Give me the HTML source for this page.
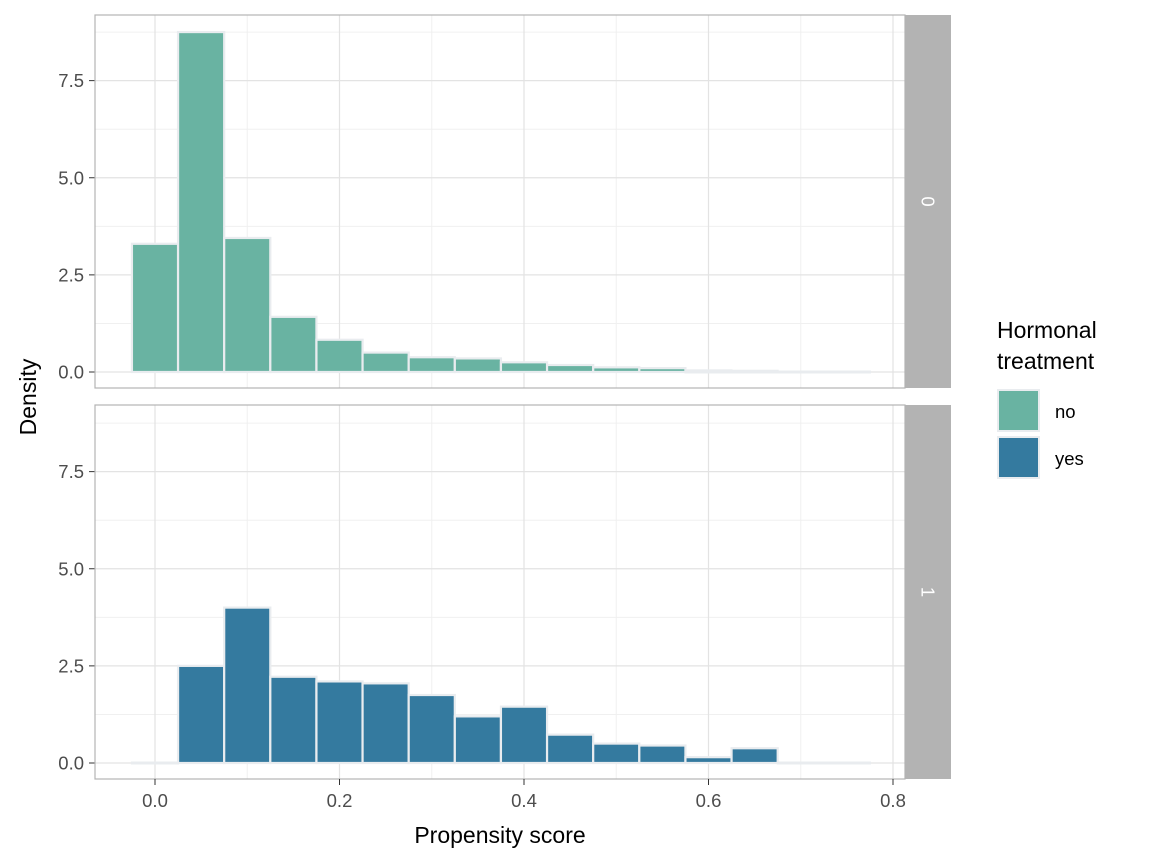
<!DOCTYPE html>
<html><head><meta charset="utf-8"><style>body{margin:0;background:#fff}svg{display:block;font-family:"Liberation Sans",Arial,sans-serif}</style></head>
<body>
<svg id="s" width="1152" height="865" xmlns="http://www.w3.org/2000/svg"></svg>
<script>
const s=document.getElementById('s');let h='';
const X=v=>155+v*922.5;
const panels=[{top:15,bot:388,zero:372,col:'#69b3a2',lab:'0',
 d:[3.3,8.75,3.45,1.42,0.83,0.5,0.38,0.35,0.25,0.18,0.12,0.1,0.03,0.02,0,0]},
 {top:405,bot:779,zero:763,col:'#347a9f',lab:'1',
 d:[0,2.5,4.0,2.22,2.1,2.05,1.75,1.2,1.45,0.73,0.5,0.45,0.15,0.38,0,0]}];
const k=38.85;
panels.forEach(p=>{
 const Y=v=>p.zero-v*k;
 for(let v=-1.25;v<=8.75;v+=2.5){const y=Y(v);if(y>p.top&&y<p.bot)h+=`<line x1="95" x2="905" y1="${y}" y2="${y}" stroke="#f0f0f0" stroke-width="1"/>`;}
 for(let v=0.1;v<0.8;v+=0.2)h+=`<line x1="${X(v)}" x2="${X(v)}" y1="${p.top}" y2="${p.bot}" stroke="#f0f0f0" stroke-width="1"/>`;
 for(let v=0;v<=7.5;v+=2.5){const y=Y(v);h+=`<line x1="95" x2="905" y1="${y}" y2="${y}" stroke="#e3e3e3" stroke-width="1.2"/><text x="84" y="${y+6.5}" text-anchor="end" font-size="18.5" fill="#4d4d4d">${v.toFixed(1)}</text><line x1="89" x2="95" y1="${y}" y2="${y}" stroke="#333"/>`;}
 for(let v=0;v<=0.8;v+=0.2)h+=`<line x1="${X(v)}" x2="${X(v)}" y1="${p.top}" y2="${p.bot}" stroke="#e3e3e3" stroke-width="1.2"/>`;
 p.d.forEach((v,i)=>{const x0=X(-0.025+i*0.05),x1=X(0.025+i*0.05);const y=Y(v);
  if(v<0.05) h+=`<rect x="${x0-1}" y="${y-1.5}" width="${x1-x0+2}" height="${p.zero-y+3}" fill="#e9ecef"/>`;
  else h+=`<rect x="${x0}" y="${y}" width="${x1-x0}" height="${p.zero-y}" fill="${p.col}" stroke="#e9ecef" stroke-width="2.2"/>`;});
 h+=`<rect x="95" y="${p.top}" width="810" height="${p.bot-p.top}" fill="none" stroke="#b3b3b3" stroke-width="1.2"/>`;
 h+=`<rect x="905" y="${p.top}" width="46" height="${p.bot-p.top}" fill="#b3b3b3"/>`;
 const cy=(p.top+p.bot)/2;
 h+=`<text x="928" y="${cy}" transform="rotate(90 928 ${cy})" text-anchor="middle" dy="6.5" font-size="18.5" fill="#fff">${p.lab}</text>`;
});
[0,0.2,0.4,0.6,0.8].forEach(v=>{h+=`<line x1="${X(v)}" x2="${X(v)}" y1="779" y2="785" stroke="#333"/><text x="${X(v)}" y="807" text-anchor="middle" font-size="18.5" fill="#4d4d4d">${v.toFixed(1)}</text>`;});
h+=`<text x="500" y="843" text-anchor="middle" font-size="23" fill="#000">Propensity score</text>`;
h+=`<text x="36" y="397" transform="rotate(-90 36 397)" text-anchor="middle" font-size="23" fill="#000">Density</text>`;
h+=`<text x="997" y="338" font-size="23">Hormonal</text><text x="997" y="369" font-size="23">treatment</text>`;
h+=`<rect x="998" y="390" width="41" height="41" fill="#69b3a2" stroke="#e9ecef" stroke-width="2"/><text x="1055" y="418" font-size="18.5">no</text>`;
h+=`<rect x="998" y="437" width="41" height="41" fill="#347a9f" stroke="#e9ecef" stroke-width="2"/><text x="1055" y="465" font-size="18.5">yes</text>`;
s.innerHTML=h;
</script>
</body></html>
